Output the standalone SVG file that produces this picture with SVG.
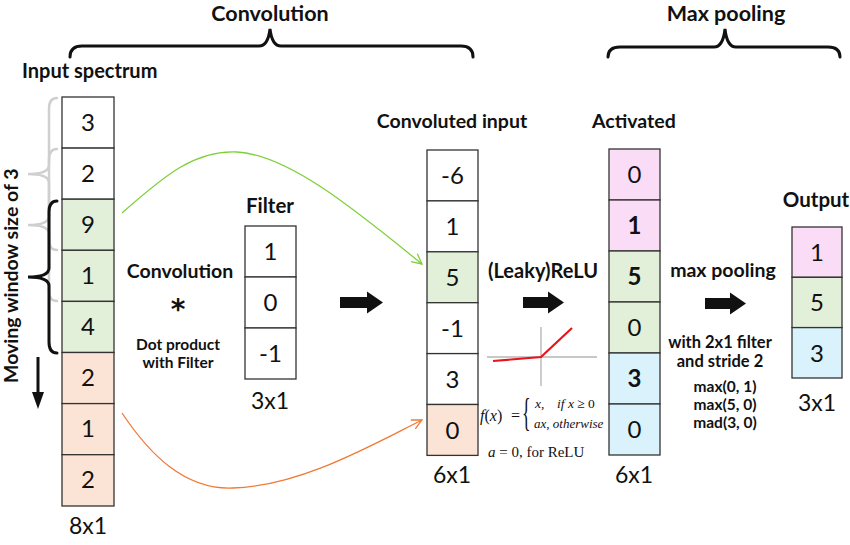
<svg xmlns="http://www.w3.org/2000/svg" width="850" height="545" viewBox="0 0 850 545">
<style>
.b{font-family:Lato,"Liberation Sans",sans-serif;font-weight:bold;fill:#111}
.t{font-family:Lato,"Liberation Sans",sans-serif;fill:#111}
.num{font-family:Lato,"Liberation Sans",sans-serif;font-size:24px;fill:#111;text-anchor:middle}
.nb{font-weight:bold}
.cell{stroke:#333;stroke-width:1.3}
.w{fill:#fff}.g{fill:#e2efd9}.s{fill:#fbe4d6}.p{fill:#fbdcf6}.c{fill:#d9f2fb}
.brace{fill:none;stroke:#111;stroke-width:3;stroke-linecap:round}
.gb{fill:none;stroke:#cfcfcf;stroke-width:2.5;stroke-linecap:round}
.serif{font-family:"Liberation Serif",serif;fill:#111}
.it{font-style:italic}
</style>
<defs>
<marker id="ag" markerWidth="14" markerHeight="14" refX="0" refY="0" viewBox="-12 -7 14 14" orient="auto" markerUnits="userSpaceOnUse">
<path d="M-10,-5 L0,0 L-10,5" fill="none" stroke="#7ed03a" stroke-width="1.3"/>
</marker>
<marker id="ao" markerWidth="14" markerHeight="14" refX="0" refY="0" viewBox="-12 -7 14 14" orient="auto" markerUnits="userSpaceOnUse">
<path d="M-10,-5 L0,0 L-10,5" fill="none" stroke="#f07a36" stroke-width="1.3"/>
</marker>
</defs>
<rect width="850" height="545" fill="#fff"/>

<g id="titles">
<text class="b" x="270" y="21" font-size="21.5" text-anchor="middle">Convolution</text>
<path class="brace" d="M70,57 Q70,46 82,46 L259,46 Q268,46 270,29 Q272,46 281,46 L461,46 Q473,46 473,57"/>
<text class="b" x="726" y="21" font-size="21.5" text-anchor="middle">Max pooling</text>
<path class="brace" d="M608,57 Q608,47 620,47 L714,47 Q723,47 725,29 Q727,47 736,47 L828,47 Q840,47 840,57"/>
</g>

<g id="input">
<text class="b" x="22" y="78" font-size="20">Input spectrum</text>
<rect class="cell w" x="62" y="97" width="52" height="51.1"/>
<rect class="cell w" x="62" y="148.1" width="52" height="51.1"/>
<rect class="cell g" x="62" y="199.2" width="52" height="51.1"/>
<rect class="cell g" x="62" y="250.3" width="52" height="51.1"/>
<rect class="cell g" x="62" y="301.4" width="52" height="51.1"/>
<rect class="cell s" x="62" y="352.5" width="52" height="51.1"/>
<rect class="cell s" x="62" y="403.6" width="52" height="51.1"/>
<rect class="cell s" x="62" y="454.7" width="52" height="51.3"/>
<text class="num" x="88" y="131">3</text>
<text class="num" x="88" y="182">2</text>
<text class="num" x="88" y="233">9</text>
<text class="num" x="88" y="284">1</text>
<text class="num" x="88" y="335">4</text>
<text class="num" x="88" y="386">2</text>
<text class="num" x="88" y="437">1</text>
<text class="num" x="88" y="488">2</text>
<text class="t" x="88" y="534" font-size="23" text-anchor="middle">8x1</text>
</g>

<g id="window">
<path class="gb" d="M57,98 Q49,98 49,109 L49,165 Q49,174 28,174 Q49,174 49,183 L49,240 Q49,250 57,250"/>
<path class="gb" d="M57,149 Q49,149 49,160 L49,216 Q49,225 28,225 Q49,225 49,234 L49,291 Q49,301 57,301"/>
<path class="brace" stroke-width="2.5" d="M57,201 Q49,201 49,212 L49,268 Q49,277 28,277 Q49,277 49,286 L49,342 Q49,353 57,353"/>
<text class="b" font-size="19.5" transform="translate(18,383) rotate(-90)">Moving window size of 3</text>
<line x1="38" y1="357" x2="38" y2="394" stroke="#111" stroke-width="3"/>
<path d="M32,392 L44,392 L38,409 Z" fill="#111"/>
</g>

<g id="operation">
<text class="b" x="180" y="278" font-size="19.5" text-anchor="middle">Convolution</text>
<text x="178" y="319" font-family="'DejaVu Sans',sans-serif" font-weight="bold" font-size="28" text-anchor="middle" fill="#111">*</text>
<text class="b" x="178" y="350" font-size="15.5" text-anchor="middle">Dot product</text>
<text class="b" x="178" y="368" font-size="15.5" text-anchor="middle">with Filter</text>
</g>

<g id="filter">
<text class="b" x="270" y="213" font-size="20.5" text-anchor="middle">Filter</text>
<rect class="cell w" x="245" y="226" width="51" height="51"/>
<rect class="cell w" x="245" y="277" width="51" height="51"/>
<rect class="cell w" x="245" y="328" width="51" height="51"/>
<text class="num" x="270.5" y="260">1</text>
<text class="num" x="270.5" y="311">0</text>
<text class="num" x="270.5" y="362">-1</text>
<text class="t" x="270" y="409" font-size="23" text-anchor="middle">3x1</text>
</g>

<g id="convoluted">
<text class="b" x="452" y="128" font-size="19.5" text-anchor="middle">Convoluted input</text>
<rect class="cell w" x="427" y="150" width="51" height="50.9"/>
<rect class="cell w" x="427" y="200.9" width="51" height="50.9"/>
<rect class="cell g" x="427" y="251.8" width="51" height="50.9"/>
<rect class="cell w" x="427" y="302.7" width="51" height="50.9"/>
<rect class="cell w" x="427" y="353.6" width="51" height="50.9"/>
<rect class="cell s" x="427" y="404.5" width="51" height="50.9"/>
<text class="num" x="452.5" y="184">-6</text>
<text class="num" x="452.5" y="235">1</text>
<text class="num" x="452.5" y="286">5</text>
<text class="num" x="452.5" y="337">-1</text>
<text class="num" x="452.5" y="388">3</text>
<text class="num" x="452.5" y="439">0</text>
<text class="t" x="452" y="483" font-size="23" text-anchor="middle">6x1</text>
</g>

<g id="relu">
<text class="b" x="543" y="278" font-size="20" text-anchor="middle">(Leaky)ReLU</text>
<line x1="487" y1="357" x2="597" y2="357" stroke="#c8c8c8" stroke-width="1.8"/>
<line x1="541" y1="327" x2="541" y2="386" stroke="#c8c8c8" stroke-width="1.8"/>
<polyline points="493,361 541,357 572,328" fill="none" stroke="#e8141a" stroke-width="2.2"/>
<text class="serif" x="480" y="421" font-size="16"><tspan class="it">f</tspan>(<tspan class="it">x</tspan>)<tspan x="511">=</tspan></text>
<text class="serif" x="522" y="426" font-size="40" transform="translate(522,426) scale(0.45,1) translate(-522,-426)">{</text>
<text class="serif" x="535" y="408" font-size="13.5"><tspan class="it">x</tspan>,<tspan x="557" class="it">if x</tspan> ≥ 0</text>
<text class="serif" x="534" y="428" font-size="13"><tspan class="it">ax</tspan>, <tspan class="it">otherwise</tspan></text>
<text class="serif" x="488" y="457" font-size="15"><tspan class="it">a</tspan> = 0, for ReLU</text>
</g>

<g id="activated">
<text class="b" x="592" y="128" font-size="19.5">Activated</text>
<rect class="cell p" x="609" y="149" width="51" height="51"/>
<rect class="cell p" x="609" y="200" width="51" height="51"/>
<rect class="cell g" x="609" y="251" width="51" height="51"/>
<rect class="cell g" x="609" y="302" width="51" height="51"/>
<rect class="cell c" x="609" y="353" width="51" height="51"/>
<rect class="cell c" x="609" y="404" width="51" height="51"/>
<text class="num" x="634.5" y="183">0</text>
<text class="num nb" x="634.5" y="234">1</text>
<text class="num nb" x="634.5" y="285">5</text>
<text class="num" x="634.5" y="336">0</text>
<text class="num nb" x="634.5" y="387">3</text>
<text class="num" x="634.5" y="438">0</text>
<text class="t" x="634" y="483" font-size="23" text-anchor="middle">6x1</text>
</g>

<g id="pooling">
<text class="b" x="723" y="277" font-size="19.5" text-anchor="middle">max pooling</text>
<text class="b" x="720" y="348" font-size="16.5" text-anchor="middle">with 2x1 filter</text>
<text class="b" x="720" y="367" font-size="16.5" text-anchor="middle">and stride 2</text>
<text class="b" x="725" y="392" font-size="15.5" text-anchor="middle">max(0, 1)</text>
<text class="b" x="725" y="410" font-size="15.5" text-anchor="middle">max(5, 0)</text>
<text class="b" x="725" y="428" font-size="15.5" text-anchor="middle">mad(3, 0)</text>
</g>

<g id="output">
<text class="b" x="816" y="207" font-size="20.5" text-anchor="middle">Output</text>
<rect class="cell p" x="792" y="227" width="50" height="50.3"/>
<rect class="cell g" x="792" y="277.3" width="50" height="50.3"/>
<rect class="cell c" x="792" y="327.6" width="50" height="50.4"/>
<text class="num" x="817" y="261">1</text>
<text class="num" x="817" y="311">5</text>
<text class="num" x="817" y="362">3</text>
<text class="t" x="817" y="411" font-size="23" text-anchor="middle">3x1</text>
</g>

<g id="connectors">
<path d="M122,213 C165,175 195,150 237,152 C290,155 360,214 422,264" fill="none" stroke="#7ed03a" stroke-width="1.3" marker-end="url(#ag)"/>
<path d="M122,413 C150,455 185,490 233,488 C300,486 370,446 422,420" fill="none" stroke="#f07a36" stroke-width="1.3" marker-end="url(#ao)"/>
<path d="M340,297 L367,297 L367,291.5 L383,302.5 L367,313.5 L367,308 L340,308 Z" fill="#111"/>
<path d="M523,297 L548,297 L548,291.5 L564,302.5 L548,313.5 L548,308 L523,308 Z" fill="#111"/>
<path d="M705,298 L730,298 L730,292.5 L746,303.5 L730,314.5 L730,309 L705,309 Z" fill="#111"/>
</g>
</svg>
